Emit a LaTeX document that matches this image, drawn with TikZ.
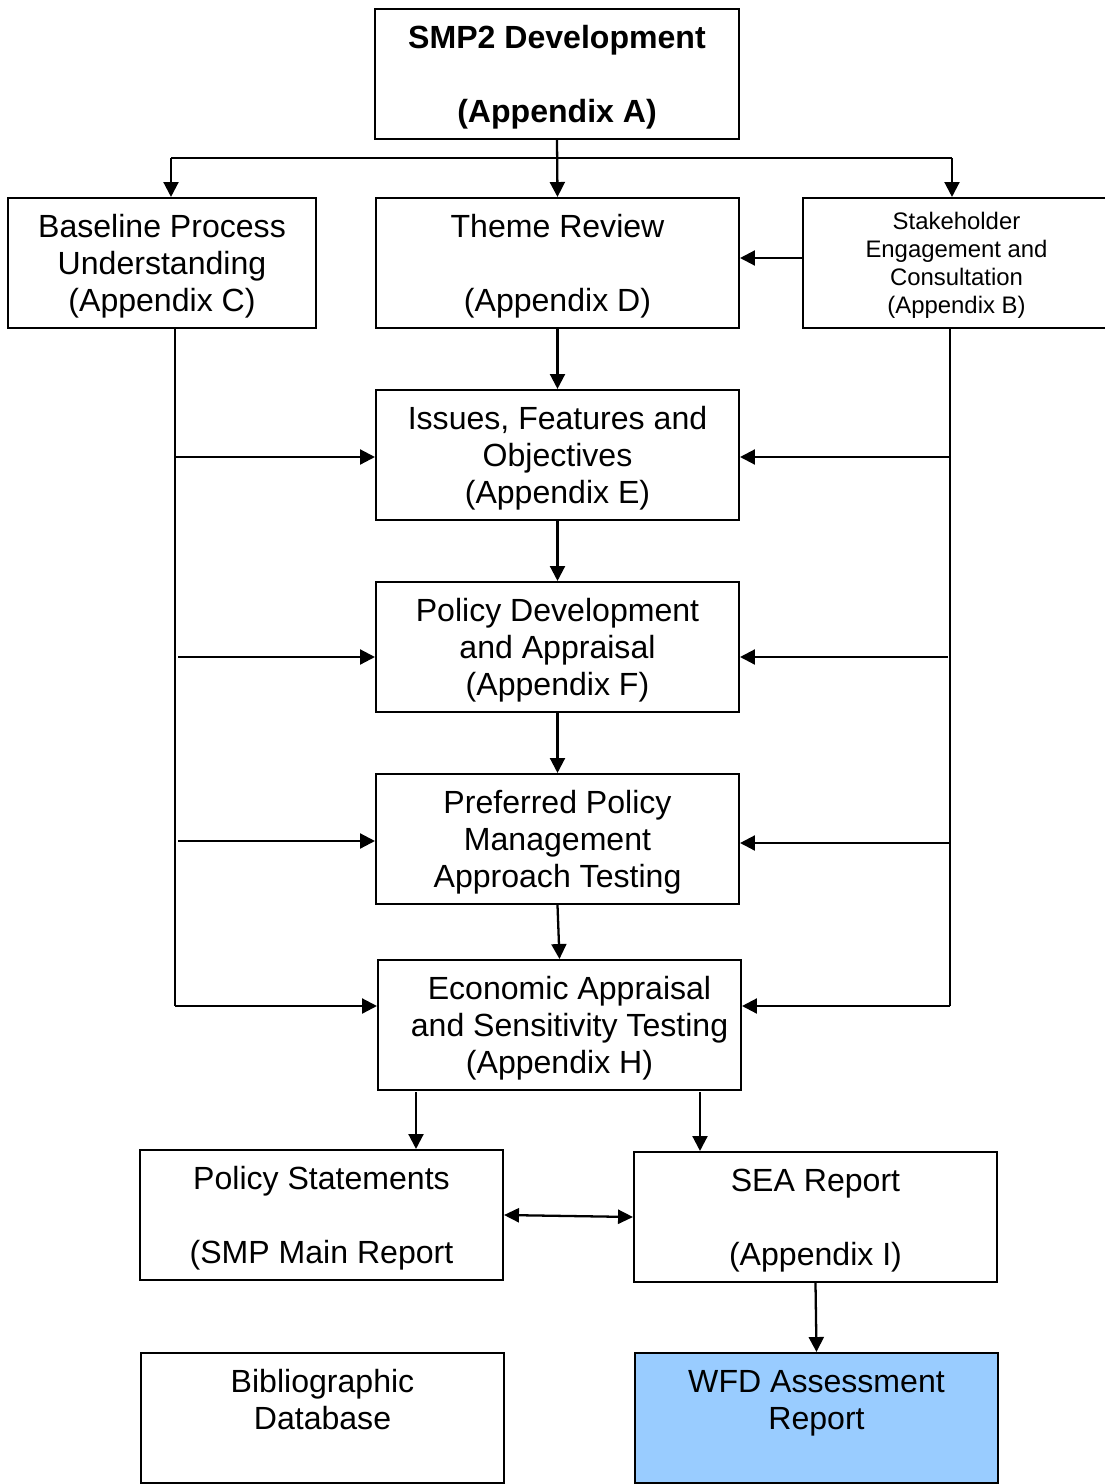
\documentclass[tikz,border=0pt]{standalone}
\usepackage{fontspec}
\setmainfont{Liberation Sans}
\usetikzlibrary{arrows.meta}
\begin{document}
\begin{tikzpicture}[x=0.02cm,y=-0.02cm,
	box/.style={draw,line width=1.2pt,inner sep=0pt,text depth=0pt,minimum width=7.26cm,minimum height=2.6cm,align=center,font=\fontsize{18.25}{21}\selectfont},
	small/.style={font=\fontsize{13.6}{15.9}\selectfont},
	arr/.style={line width=1.3pt,-{Triangle[length=8.5pt,width=8.5pt]}},
	arrr/.style={line width=1.3pt,{Triangle[length=8.5pt,width=8pt]}-{Triangle[length=8.5pt,width=8pt]}},
	rail/.style={line width=1.3pt}]
	\useasboundingbox (0,0) rectangle (1105,1484);
	\node[box,font=\fontsize{18.25}{21}\selectfont\bfseries,minimum width=7.28cm] (smp) at (557,74) {SMP2 Development\\~\\(Appendix A)};
	\node[box,minimum width=6.16cm] (base) at (162,263) {Baseline Process\\Understanding\\(Appendix C)};
	\node[box] (theme) at (557.5,263) {Theme Review\\~\\(Appendix D)};
	\node[box,small,minimum width=6.14cm] (stake) at (956.5,263) {Stakeholder\\Engagement and\\Consultation\\(Appendix B)};
	\node[box] (issues) at (557.5,455) {Issues, Features and\\Objectives\\(Appendix E)};
	\node[box] (policy) at (557.5,647) {Policy Development\\and Appraisal\\(Appendix F)};
	\node[box] (pref) at (557.5,839) {Preferred Policy\\Management\\Approach Testing};
	\node[box] (econ) at (559.5,1025) {\hspace*{0.4cm}Economic Appraisal\\\hspace*{0.4cm}and Sensitivity Testing\\(Appendix H)};
	\node[box] (stmt) at (321.5,1215) {Policy Statements\\~\\(SMP Main Report};
	\node[box] (sea) at (815.5,1217) {SEA Report\\~\\(Appendix I)};
	\node[box] (biblio) at (322.5,1418) {Bibliographic\\Database\\~};
	\node[box,fill={rgb,255:red,153;green,204;blue,255}] (wfd) at (816.5,1418) {WFD Assessment\\Report\\~};
	% split below SMP2
	\coordinate (tl) at (171,158);
	\coordinate (tr) at (952,158);
	\draw[rail] (tl) -- (tr);
	\draw[arr] (smp.south) -- (theme.north);
	\draw[arr] (tl) -- (tl |- base.north);
	\draw[arr] (tr) -- (tr |- stake.north);
	\draw[arr] ([yshift=0.1cm]stake.west) -- ([yshift=0.1cm]theme.east);
	% main chain
	\draw[arr] (theme.south) -- (issues.north);
	\draw[arr] (issues.south) -- (policy.north);
	\draw[arr] (policy.south) -- (pref.north);
	\draw[arr] (pref.south) -- (econ.north);
	% left rail
	\coordinate (ltop) at (175,328);
	\coordinate (lbot) at (175,1006);
	\coordinate (l1) at (175,457);
	\coordinate (l2) at (178,657);
	\coordinate (l3) at (178,841);
	\draw[rail] (ltop) -- (lbot);
	\draw[arr] (lbot) -- (lbot -| econ.west);
	\draw[arr] (l1) -- (l1 -| issues.west);
	\draw[arr] (l2) -- (l2 -| policy.west);
	\draw[arr] (l3) -- (l3 -| pref.west);
	% right rail
	\coordinate (rtop) at (950,328);
	\coordinate (rbot) at (950,1006);
	\coordinate (r1) at (950,457);
	\coordinate (r2) at (948,657);
	\coordinate (r3) at (950,843);
	\draw[rail] (rtop) -- (rbot);
	\draw[arr] (rbot) -- (rbot -| econ.east);
	\draw[arr] (r1) -- (r1 -| issues.east);
	\draw[arr] (r2) -- (r2 -| policy.east);
	\draw[arr] (r3) -- (r3 -| pref.east);
	% outputs
	\coordinate (e1) at (416,1092);
	\coordinate (e2) at (700,1092);
	\draw[arr] (e1) -- (e1 |- stmt.north);
	\draw[arr] (e2) -- (e2 |- sea.north);
	\draw[arrr] (stmt.east) -- (sea.west);
	\draw[arr] (sea.south) -- (wfd.north);
\end{tikzpicture}
\end{document}
